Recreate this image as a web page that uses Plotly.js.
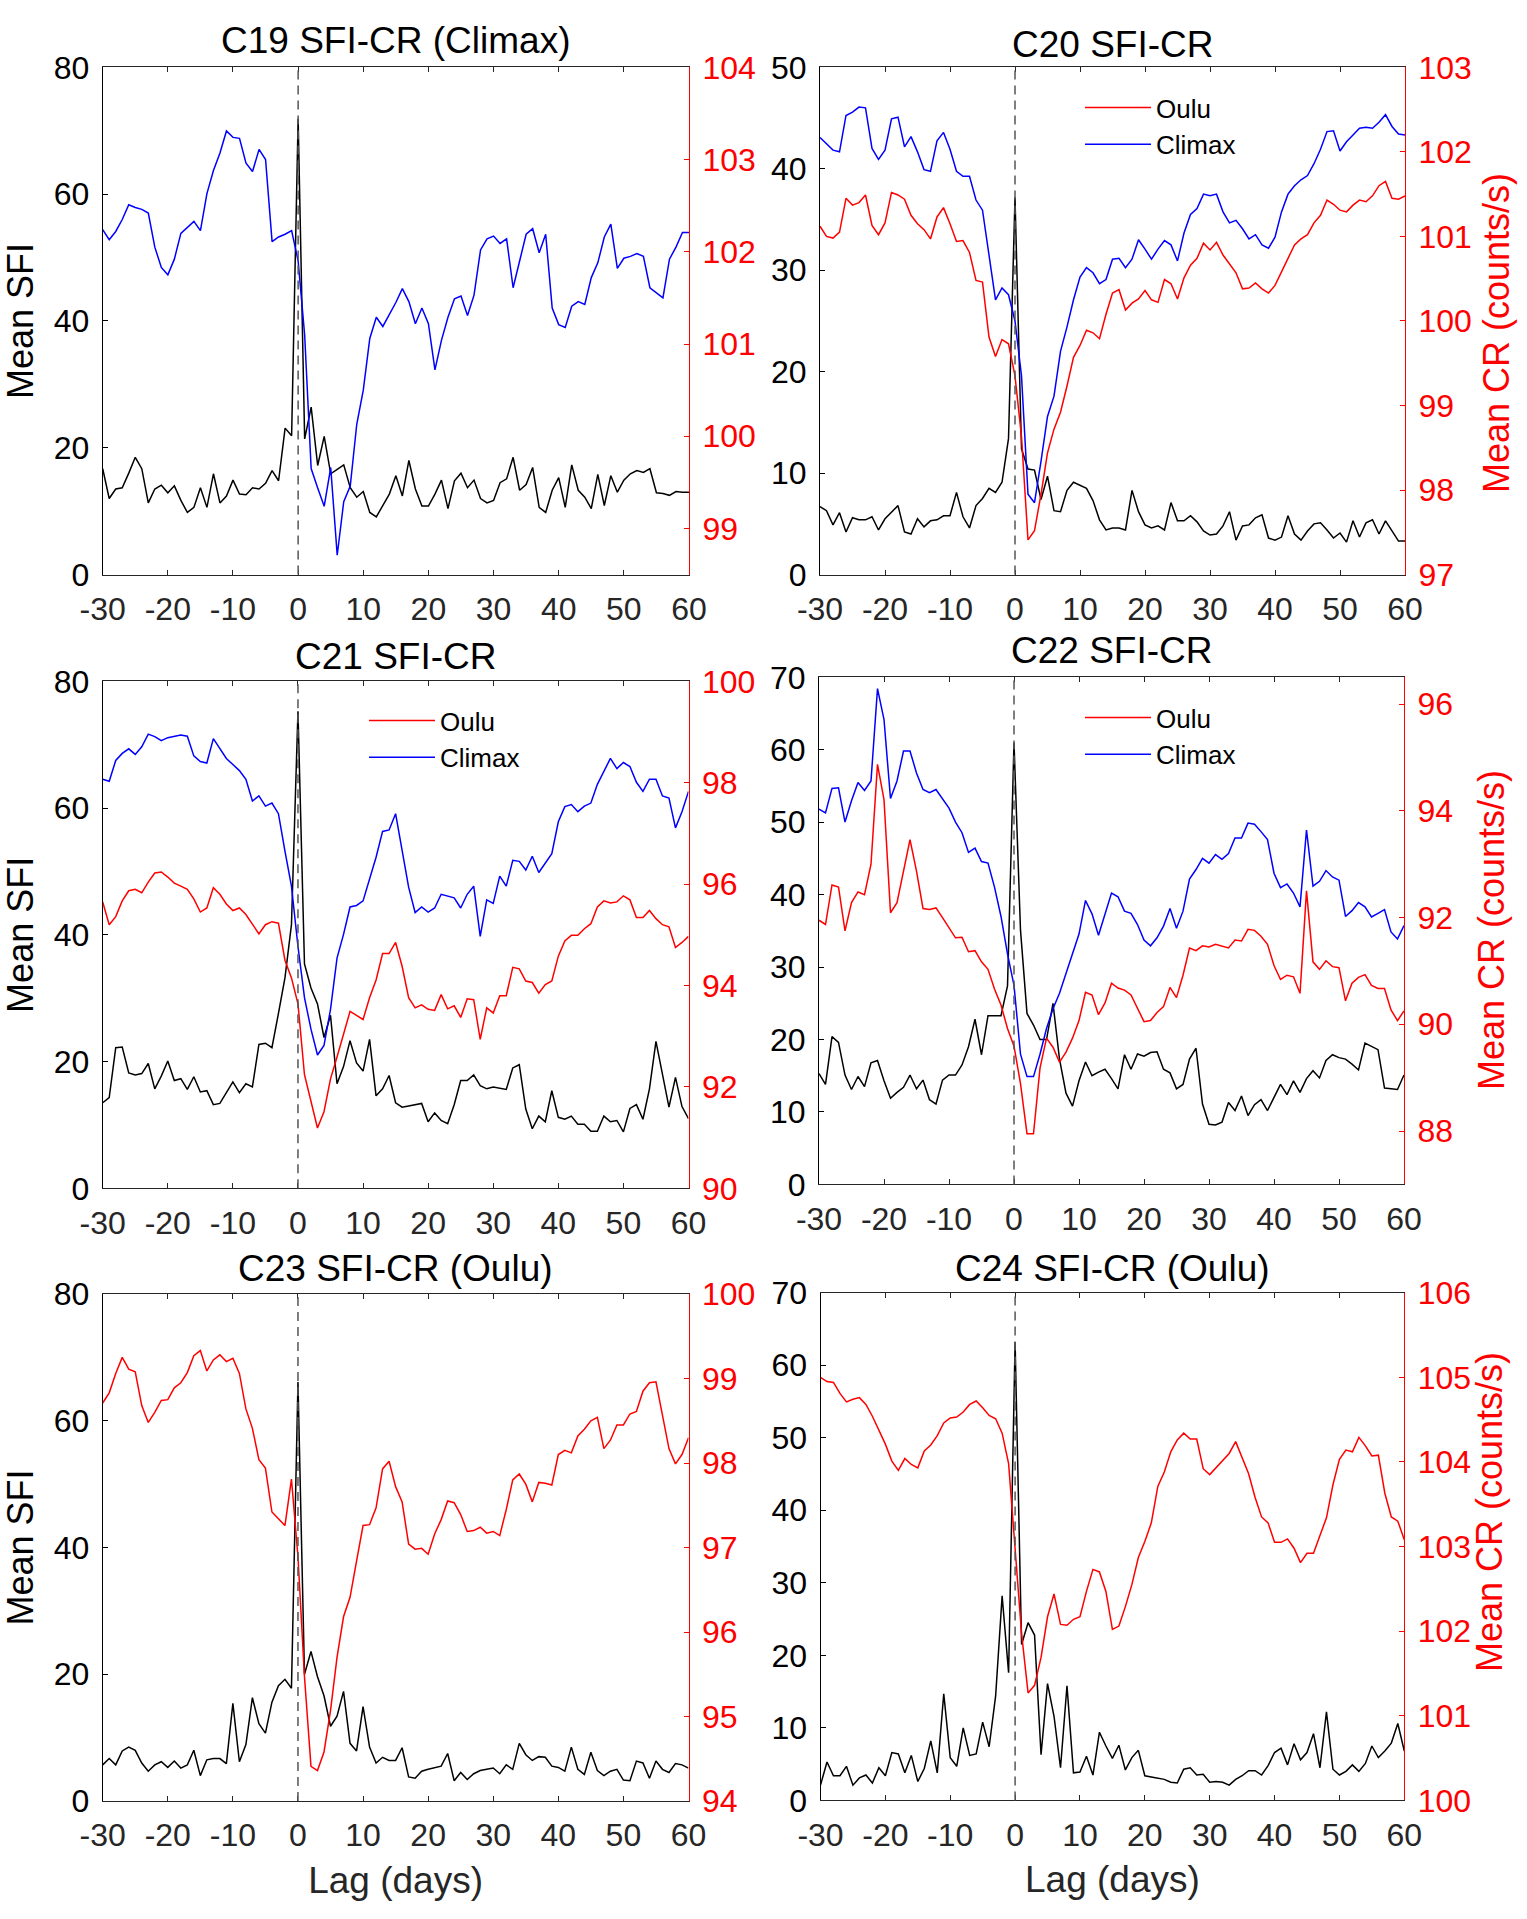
<!DOCTYPE html>
<html>
<head>
<meta charset="utf-8">
<script src="https://cdn.plot.ly/plotly-3.0.1.min.js"></script>
<style>
  html, body { margin: 0; padding: 0; background: #ffffff; }
  #chart { width: 1527px; height: 1919px; }
</style>
</head>
<body>
<div id="chart"></div>
<script>
// ---------------- DATA ----------------
const lags = Array.from({length: 91}, (_, i) => i - 30);
const xTickVals = [-30, -20, -10, 0, 10, 20, 30, 40, 50, 60];
const xTickText = ['-30', '-20', '-10', '0', '10', '20', '30', '40', '50', '60'];
const refLag = 0;

const panelTitles = ['C19 SFI-CR (Climax)', 'C20 SFI-CR', 'C21 SFI-CR', 'C22 SFI-CR', 'C23 SFI-CR (Oulu)', 'C24 SFI-CR (Oulu)'];
const seriesNames = { oulu: 'Oulu', climax: 'Climax' };
const leftTitle = 'Mean SFI';
const rightTitle = 'Mean CR (counts/s)';
const xTitle = 'Lag (days)';

// C19
const sfi19 = [16.7, 12.0, 13.5, 13.7, 16.0, 18.5, 16.7, 11.3, 13.5, 14.1,
  12.9, 14.0, 11.7, 9.8, 10.6, 13.7, 10.6, 15.9, 11.3, 12.4,
  14.9, 12.7, 12.6, 13.7, 13.5, 14.4, 16.4, 14.8, 23.1, 21.9,
  71.9,
  21.4, 26.4, 17.2, 21.8, 15.9, 16.6, 17.3, 13.7, 12.2, 13.1,
  9.8, 9.1, 11.0, 12.7, 15.6, 12.4, 18.0, 13.5, 10.8, 10.8,
  12.7, 14.9, 10.4, 14.8, 16.0, 13.7, 14.9, 12.0, 11.3, 11.7,
  14.5, 15.1, 18.5, 13.3, 14.2, 16.9, 10.6, 9.8, 13.3, 15.3,
  10.6, 17.3, 13.3, 12.2, 10.4, 15.8, 10.9, 15.6, 13.0, 14.9,
  15.9, 16.4, 16.1, 16.7, 12.9, 12.8, 12.5, 13.1, 13.0, 13.0];
const climax19 = [102.24, 102.13, 102.22, 102.35, 102.51, 102.48, 102.46, 102.42, 102.05, 101.83,
  101.75, 101.92, 102.20, 102.27, 102.33, 102.23, 102.63, 102.88, 103.07, 103.31,
  103.24, 103.23, 102.96, 102.87, 103.11, 103.00, 102.11, 102.16, 102.19, 102.23,
  101.90,
  101.10, 99.65, 99.44, 99.24, 99.66, 98.71, 99.29, 99.46, 100.13, 100.50,
  101.06, 101.29, 101.19, 101.32, 101.45, 101.60, 101.46, 101.22, 101.39, 101.22,
  100.72, 101.04, 101.29, 101.49, 101.52, 101.31, 101.53, 102.02, 102.14, 102.17,
  102.09, 102.14, 101.61, 101.90, 102.19, 102.25, 101.99, 102.19, 101.39, 101.21,
  101.18, 101.41, 101.46, 101.43, 101.72, 101.88, 102.16, 102.30, 101.82, 101.93,
  101.95, 101.98, 101.95, 101.61, 101.55, 101.50, 101.92, 102.05, 102.21, 102.21];

// C20
const sfi20 = [6.7, 6.3, 4.9, 6.1, 4.2, 5.6, 5.4, 5.4, 5.7, 4.4,
  5.5, 6.2, 6.8, 4.2, 4.0, 5.5, 4.7, 5.3, 5.4, 5.8,
  5.8, 8.1, 5.7, 4.6, 6.8, 7.5, 8.5, 8.1, 9.1, 13.4,
  37.2,
  12.4, 10.4, 10.3, 7.4, 9.7, 6.3, 6.2, 8.3, 9.1, 8.8,
  8.5, 7.3, 5.4, 4.4, 4.6, 4.6, 4.4, 8.3, 6.2, 4.9,
  4.6, 4.8, 4.4, 7.1, 5.3, 5.3, 5.8, 5.2, 4.3, 3.9,
  4.0, 4.8, 6.2, 3.4, 4.8, 4.9, 5.6, 5.9, 3.6, 3.4,
  3.7, 5.8, 4.0, 3.4, 4.3, 5.0, 5.1, 4.4, 3.6, 4.1,
  3.2, 5.3, 3.7, 5.1, 5.4, 4.0, 5.3, 4.3, 3.3, 3.3];
const climax20 = [102.17, 102.10, 102.02, 102.00, 102.43, 102.47, 102.53, 102.52, 102.04, 101.91,
  102.02, 102.39, 102.41, 102.06, 102.18, 102.00, 101.79, 101.77, 102.13, 102.23,
  102.03, 101.77, 101.71, 101.71, 101.43, 101.31, 100.78, 100.25, 100.39, 100.31,
  100.00,
  99.35, 97.95, 97.85, 98.34, 98.87, 99.11, 99.64, 99.93, 100.25, 100.52,
  100.63, 100.57, 100.44, 100.49, 100.73, 100.74, 100.63, 100.73, 100.96, 100.85,
  100.73, 100.85, 100.95, 100.90, 100.71, 101.04, 101.26, 101.33, 101.50, 101.48,
  101.50, 101.29, 101.16, 101.19, 101.09, 100.97, 101.02, 100.90, 100.86, 100.99,
  101.29, 101.50, 101.60, 101.67, 101.72, 101.86, 102.03, 102.24, 102.25, 102.01,
  102.12, 102.20, 102.28, 102.29, 102.28, 102.35, 102.44, 102.30, 102.21, 102.20];
const oulu20 = [101.12, 101.00, 100.98, 101.05, 101.45, 101.37, 101.40, 101.49, 101.13, 101.02,
  101.16, 101.52, 101.49, 101.44, 101.25, 101.15, 101.08, 100.97, 101.23, 101.34,
  101.15, 100.94, 100.95, 100.81, 100.48, 100.46, 99.81, 99.58, 99.78, 99.73,
  99.35,
  98.63, 97.41, 97.52, 97.95, 98.44, 98.72, 98.92, 99.23, 99.57, 99.71,
  99.89, 99.86, 99.79, 100.08, 100.33, 100.37, 100.13, 100.21, 100.26, 100.36,
  100.25, 100.22, 100.49, 100.44, 100.26, 100.51, 100.66, 100.74, 100.92, 100.84,
  100.93, 100.78, 100.68, 100.57, 100.38, 100.39, 100.45, 100.38, 100.33, 100.42,
  100.58, 100.74, 100.90, 100.97, 101.02, 101.16, 101.25, 101.43, 101.38, 101.31,
  101.29, 101.37, 101.43, 101.41, 101.48, 101.60, 101.65, 101.45, 101.44, 101.48];

// C21
const sfi21 = [13.5, 14.3, 22.2, 22.3, 18.2, 17.9, 18.1, 19.7, 15.7, 17.7,
  20.1, 17.0, 17.3, 15.6, 17.6, 15.2, 15.4, 13.2, 13.4, 15.1,
  16.8, 15.1, 16.5, 16.0, 22.7, 22.9, 22.2, 27.6, 33.2, 41.6,
  75.3,
  35.4, 31.6, 29.1, 23.8, 27.3, 16.5, 19.2, 23.3, 19.8, 18.5,
  23.5, 14.6, 15.7, 17.8, 13.5, 12.8, 13.0, 13.2, 13.4, 10.5,
  11.9, 10.7, 10.2, 13.2, 17.0, 17.0, 17.9, 16.2, 15.7, 16.0,
  15.8, 15.6, 19.0, 19.5, 12.5, 9.4, 11.4, 10.5, 15.4, 11.2,
  10.9, 11.4, 10.1, 10.1, 9.0, 9.0, 11.4, 10.5, 10.7, 8.9,
  12.6, 13.2, 10.9, 15.7, 23.2, 18.2, 12.8, 17.5, 12.9, 11.0];
const climax21 = [98.07, 98.03, 98.44, 98.58, 98.67, 98.56, 98.71, 98.96, 98.91, 98.83,
  98.89, 98.92, 98.94, 98.92, 98.53, 98.42, 98.39, 98.87, 98.67, 98.48,
  98.36, 98.24, 98.07, 97.64, 97.74, 97.54, 97.60, 97.39, 96.65, 95.96,
  94.77,
  93.76, 93.14, 92.63, 92.82, 93.53, 94.54, 95.01, 95.55, 95.58, 95.67,
  96.10, 96.53, 97.04, 97.07, 97.39, 96.65, 95.94, 95.44, 95.55, 95.45,
  95.53, 95.80, 95.77, 95.73, 95.53, 95.80, 95.96, 94.97, 95.69, 95.62,
  96.16, 95.96, 96.47, 96.45, 96.28, 96.55, 96.23, 96.41, 96.60, 97.23,
  97.53, 97.57, 97.43, 97.54, 97.60, 97.97, 98.22, 98.48, 98.28, 98.40,
  98.32, 98.01, 97.83, 98.07, 98.07, 97.74, 97.70, 97.11, 97.43, 97.83];
const oulu21 = [95.65, 95.20, 95.36, 95.67, 95.87, 95.90, 95.83, 96.04, 96.22, 96.24,
  96.14, 96.02, 95.96, 95.90, 95.71, 95.45, 95.53, 95.93, 95.80, 95.61,
  95.48, 95.53, 95.40, 95.20, 95.02, 95.20, 95.26, 95.23, 94.50, 94.15,
  93.64,
  92.24, 91.69, 91.19, 91.51, 92.16, 92.59, 93.06, 93.49, 93.41, 93.33,
  93.76, 94.11, 94.63, 94.63, 94.85, 94.38, 93.76, 93.56, 93.62, 93.53,
  93.51, 93.82, 93.54, 93.60, 93.37, 93.74, 93.72, 92.94, 93.56, 93.46,
  93.80, 93.80, 94.36, 94.33, 94.09, 94.06, 93.85, 94.02, 94.09, 94.58,
  94.88, 94.99, 94.99, 95.12, 95.22, 95.55, 95.67, 95.63, 95.65, 95.77,
  95.69, 95.34, 95.34, 95.48, 95.32, 95.20, 95.16, 94.75, 94.85, 94.97];

// C22
const sfi22 = [15.3, 13.8, 20.4, 19.6, 15.1, 13.1, 14.9, 13.5, 16.8, 17.1,
  14.3, 11.9, 12.7, 13.4, 15.1, 13.2, 14.4, 11.7, 11.1, 14.4,
  15.1, 15.1, 16.5, 19.0, 22.8, 17.9, 23.3, 23.3, 23.3, 27.4,
  61.0,
  35.1, 23.6, 22.0, 20.0, 20.0, 25.0, 17.3, 12.6, 10.8, 14.3,
  16.9, 15.0, 15.5, 15.9, 14.6, 13.2, 17.9, 15.9, 18.0, 17.7,
  18.2, 18.3, 15.9, 15.4, 13.2, 13.8, 17.3, 18.8, 11.1, 8.3,
  8.2, 8.6, 11.3, 10.2, 12.2, 9.5, 11.0, 11.7, 10.2, 12.1,
  13.8, 12.4, 14.3, 12.7, 14.6, 15.7, 14.7, 17.1, 17.9, 17.5,
  17.3, 16.6, 15.8, 19.5, 19.1, 18.6, 13.3, 13.2, 13.1, 15.1];
const climax22 = [94.03, 93.96, 94.42, 94.43, 93.79, 94.19, 94.53, 94.38, 94.56, 96.29,
  95.71, 94.23, 94.56, 95.12, 95.12, 94.71, 94.40, 94.34, 94.40, 94.23,
  94.05, 93.79, 93.59, 93.22, 93.30, 93.05, 93.02, 92.57, 92.02, 91.32,
  90.73,
  89.44, 89.02, 89.02, 89.44, 89.92, 90.29, 90.58, 90.95, 91.32, 91.69,
  92.32, 92.07, 91.67, 92.07, 92.46, 92.39, 92.12, 92.08, 91.87, 91.58,
  91.47, 91.62, 91.84, 92.17, 91.80, 92.12, 92.72, 92.90, 93.11, 93.02,
  93.18, 93.09, 93.20, 93.49, 93.49, 93.77, 93.75, 93.61, 93.46, 92.83,
  92.56, 92.63, 92.46, 92.20, 93.64, 92.59, 92.68, 92.88, 92.76, 92.70,
  92.02, 92.13, 92.28, 92.20, 92.01, 92.08, 92.15, 91.73, 91.60, 91.85];
const oulu22 = [91.95, 91.87, 92.61, 92.57, 91.75, 92.28, 92.48, 92.43, 93.00, 94.87,
  94.21, 92.09, 92.28, 92.87, 93.46, 92.87, 92.17, 92.15, 92.18, 92.00,
  91.80, 91.62, 91.63, 91.36, 91.38, 91.17, 91.03, 90.66, 90.36, 89.92,
  89.59,
  88.89, 87.95, 87.95, 89.18, 89.74, 89.57, 89.29, 89.48, 89.74, 90.07,
  90.60, 90.55, 90.18, 90.40, 90.77, 90.68, 90.64, 90.55, 90.29, 90.05,
  90.07, 90.22, 90.33, 90.69, 90.50, 90.92, 91.43, 91.38, 91.47, 91.45,
  91.50, 91.47, 91.43, 91.58, 91.56, 91.78, 91.76, 91.65, 91.50, 91.10,
  90.84, 90.92, 90.89, 90.58, 92.50, 91.17, 91.03, 91.19, 91.08, 91.06,
  90.44, 90.77, 90.88, 90.93, 90.73, 90.67, 90.67, 90.27, 90.07, 90.25];

// C23
const sfi23 = [5.7, 6.7, 5.7, 7.9, 8.5, 8.0, 6.0, 4.7, 5.7, 6.2,
  5.3, 6.3, 5.2, 5.7, 8.0, 4.0, 6.5, 6.7, 6.7, 5.9,
  15.4, 6.2, 8.9, 16.3, 12.2, 10.7, 15.6, 18.2, 19.2, 17.8,
  66.1,
  20.0, 23.6, 19.6, 16.6, 11.8, 13.4, 17.3, 9.1, 7.9, 14.9,
  8.5, 6.0, 6.9, 6.4, 6.4, 8.4, 3.8, 3.6, 4.7, 5.0,
  5.3, 5.5, 7.5, 3.2, 4.5, 3.4, 4.3, 4.8, 5.0, 5.2,
  4.3, 5.7, 5.0, 9.1, 7.3, 6.4, 7.0, 6.9, 5.5, 5.3,
  4.7, 8.5, 5.0, 4.2, 7.7, 4.8, 4.0, 4.7, 5.0, 3.3,
  3.2, 6.3, 6.0, 3.6, 6.3, 5.0, 4.5, 5.9, 5.7, 5.2];
const oulu23 = [98.71, 98.83, 99.06, 99.25, 99.11, 99.08, 98.68, 98.48, 98.60, 98.74,
  98.75, 98.89, 98.95, 99.07, 99.27, 99.33, 99.09, 99.22, 99.28, 99.20,
  99.24, 99.06, 98.64, 98.41, 98.04, 97.94, 97.42, 97.34, 97.26, 97.81,
  96.89,
  95.47, 94.41, 94.36, 94.58, 95.07, 95.70, 96.18, 96.41, 96.84, 97.26,
  97.27, 97.47, 97.93, 98.02, 97.72, 97.54, 97.04, 96.98, 96.99, 96.92,
  97.16, 97.33, 97.55, 97.53, 97.39, 97.19, 97.20, 97.24, 97.17, 97.19,
  97.14, 97.45, 97.80, 97.87, 97.75, 97.54, 97.77, 97.76, 97.74, 98.10,
  98.15, 98.12, 98.32, 98.40, 98.50, 98.54, 98.17, 98.27, 98.45, 98.45,
  98.58, 98.61, 98.85, 98.95, 98.96, 98.58, 98.17, 97.99, 98.10, 98.30];

// C24
const sfi24 = [2.1, 5.3, 3.4, 3.4, 4.7, 2.1, 3.1, 3.5, 2.4, 4.5,
  3.4, 6.6, 6.4, 3.8, 6.2, 2.6, 4.4, 8.2, 3.8, 14.7,
  5.9, 4.7, 10.0, 6.2, 6.4, 10.8, 7.4, 14.4, 28.2, 17.6,
  63.2,
  21.5, 24.5, 22.8, 6.3, 16.1, 11.6, 4.5, 15.8, 3.8, 3.9,
  6.1, 3.5, 9.4, 7.5, 5.8, 7.6, 4.2, 5.9, 6.9, 3.4,
  3.2, 3.1, 2.9, 2.5, 2.4, 4.3, 4.5, 3.5, 3.6, 2.5,
  2.6, 2.5, 2.1, 2.9, 3.4, 4.1, 4.1, 3.5, 4.8, 6.6,
  7.2, 4.9, 7.8, 5.6, 6.6, 9.2, 4.5, 12.2, 4.3, 3.5,
  4.0, 4.9, 4.0, 5.1, 7.5, 5.9, 6.8, 7.9, 10.6, 6.8];
const oulu24 = [105.00, 104.95, 104.94, 104.81, 104.71, 104.74, 104.76, 104.68, 104.54, 104.37,
  104.21, 104.01, 103.90, 104.04, 103.97, 103.93, 104.13, 104.20, 104.31, 104.46,
  104.52, 104.53, 104.59, 104.68, 104.72, 104.64, 104.55, 104.51, 104.34, 103.98,
  102.97,
  101.97, 101.27, 101.36, 101.69, 102.17, 102.44, 102.08, 102.07, 102.14, 102.17,
  102.47, 102.73, 102.70, 102.47, 102.02, 102.06, 102.29, 102.55, 102.87, 103.06,
  103.28, 103.71, 103.88, 104.12, 104.26, 104.34, 104.27, 104.27, 103.92, 103.85,
  103.93, 104.01, 104.10, 104.24, 104.04, 103.86, 103.58, 103.35, 103.28, 103.05,
  103.05, 103.09, 102.98, 102.81, 102.92, 102.92, 103.13, 103.34, 103.73, 104.03,
  104.14, 104.12, 104.29, 104.19, 104.07, 104.08, 103.63, 103.35, 103.30, 103.08];

// Axis ranges / ticks
const leftRanges = [[0, 80], [0, 50], [0, 80], [0, 70], [0, 80], [0, 70]];
const leftTicks = [[0, 20, 40, 60, 80], [0, 10, 20, 30, 40, 50], [0, 20, 40, 60, 80],
  [0, 10, 20, 30, 40, 50, 60, 70], [0, 20, 40, 60, 80], [0, 10, 20, 30, 40, 50, 60, 70]];
const rightRanges = [[98.5, 104], [97, 103], [90, 100], [87, 96.5], [94, 100], [100, 106]];
const rightTicks = [[99, 100, 101, 102, 103, 104], [97, 98, 99, 100, 101, 102, 103],
  [90, 92, 94, 96, 98, 100], [88, 90, 92, 94, 96], [94, 95, 96, 97, 98, 99, 100],
  [100, 101, 102, 103, 104, 105, 106]];

const panelData = [
  { sfi: sfi19, climax: climax19, oulu: null },
  { sfi: sfi20, climax: climax20, oulu: oulu20 },
  { sfi: sfi21, climax: climax21, oulu: oulu21 },
  { sfi: sfi22, climax: climax22, oulu: oulu22 },
  { sfi: sfi23, climax: null, oulu: oulu23 },
  { sfi: sfi24, climax: null, oulu: oulu24 }
];

// ---------------- LAYOUT GEOMETRY (px) ----------------
const W = 1527, H = 1919;
const boxes = [
  { l: 102.7, r: 689.0, t: 67.3, b: 574.6 },
  { l: 820.0, r: 1405.0, t: 67.3, b: 574.6 },
  { l: 102.7, r: 688.5, t: 681.4, b: 1188.3 },
  { l: 819.0, r: 1404.0, t: 677.4, b: 1184.4 },
  { l: 102.7, r: 688.5, t: 1294.0, b: 1801.0 },
  { l: 820.5, r: 1404.3, t: 1292.7, b: 1800.4 }
];
const titleY = [40.5, 44.5, 656, 650.5, 1268, 1268];
const rightTitlePos = [null, { x: 1497, y: 333 }, null, { x: 1491, y: 930 }, null, { x: 1489, y: 1512 }];
const legendPos = [null, { x: 1080, y: 84 }, { x: 364, y: 697 }, { x: 1080, y: 694 }, null, null];
const legendIds = [null, 'legend', 'legend2', 'legend3', null, null];

const FONT = 'Liberation Sans, Arial, Helvetica, sans-serif';
const AX = '#262626';

const layout = {
  width: W, height: H,
  margin: { l: 0, r: 0, t: 0, b: 0 },
  paper_bgcolor: '#ffffff', plot_bgcolor: 'rgba(0,0,0,0)',
  font: { family: FONT, color: '#000000', size: 32 },
  showlegend: true,
  annotations: [], shapes: []
};
const traces = [];

boxes.forEach((bx, i) => {
  const k = i + 1;
  const xName = k === 1 ? 'xaxis' : 'xaxis' + k;
  const yL = 2 * k - 1, yR = 2 * k;
  const yLName = yL === 1 ? 'yaxis' : 'yaxis' + yL;
  const yRName = 'yaxis' + yR;
  const xRef = k === 1 ? 'x' : 'x' + k;
  const yLRef = yL === 1 ? 'y' : 'y' + yL;
  const yRRef = 'y' + yR;
  const xd = [bx.l / W, bx.r / W];
  const yd = [1 - bx.b / H, 1 - bx.t / H];

  layout[xName] = {
    domain: xd, anchor: yLRef, range: [-30, 60],
    tickmode: 'array', tickvals: xTickVals, ticktext: xTickText,
    ticks: 'inside', ticklen: 5, tickwidth: 1, tickcolor: AX,
    showline: true, linecolor: AX, linewidth: 1, mirror: 'ticks',
    showgrid: false, zeroline: false,
    tickfont: { family: FONT, size: 32, color: AX },
    ticklabelstandoff: 6,
    title: (k >= 5) ? { text: xTitle, font: { family: FONT, size: 37, color: AX }, standoff: 14 } : { text: '' }
  };
  layout[yLName] = {
    domain: yd, anchor: xRef, range: leftRanges[i],
    tickmode: 'array', tickvals: leftTicks[i],
    ticks: 'inside', ticklen: 5, tickwidth: 1, tickcolor: '#000000',
    showline: true, linecolor: '#000000', linewidth: 1, mirror: false,
    showgrid: false, zeroline: false,
    tickfont: { family: FONT, size: 32, color: '#000000' },
    ticklabelstandoff: 6,
    title: (k % 2 === 1) ? { text: leftTitle, font: { family: FONT, size: 36, color: '#000000' }, standoff: 10 } : { text: '' }
  };
  layout[yRName] = {
    overlaying: yLRef, side: 'right', anchor: xRef, range: rightRanges[i],
    tickmode: 'array', tickvals: rightTicks[i],
    ticks: 'inside', ticklen: 5, tickwidth: 1, tickcolor: '#ff0000',
    showline: true, linecolor: '#ff0000', linewidth: 1,
    showgrid: false, zeroline: false,
    tickfont: { family: FONT, size: 32, color: '#ff0000' },
    ticklabelstandoff: 6,
    title: { text: '' }
  };

  const pd = panelData[i];
  const leg = legendIds[i];
  traces.push({
    x: lags, y: pd.sfi, xaxis: xRef, yaxis: yLRef, type: 'scatter', mode: 'lines',
    line: { color: '#000000', width: 1.5 }, showlegend: false, hoverinfo: 'skip'
  });
  if (pd.climax) {
    traces.push({
      x: lags, y: pd.climax, xaxis: xRef, yaxis: yRRef, type: 'scatter', mode: 'lines',
      name: seriesNames.climax, line: { color: '#0000ff', width: 1.5 },
      showlegend: !!leg, legend: leg || 'legend', legendrank: 2, hoverinfo: 'skip'
    });
  }
  if (pd.oulu) {
    traces.push({
      x: lags, y: pd.oulu, xaxis: xRef, yaxis: yRRef, type: 'scatter', mode: 'lines',
      name: seriesNames.oulu, line: { color: '#ff0000', width: 1.5 },
      showlegend: !!leg, legend: leg || 'legend', legendrank: 1, hoverinfo: 'skip'
    });
  }

  // dashed reference line at lag 0
  layout.shapes.push({
    type: 'line', xref: xRef, yref: yLRef + ' domain', x0: refLag, x1: refLag, y0: 0, y1: 1,
    line: { color: '#555555', width: 1.5, dash: '9px,6px' }, layer: 'above'
  });

  // panel title
  layout.annotations.push({
    text: panelTitles[i], xref: 'paper', yref: 'paper',
    x: (xd[0] + xd[1]) / 2, y: 1 - titleY[i] / H, xanchor: 'center', yanchor: 'middle',
    showarrow: false, font: { family: FONT, size: 37, color: '#000000' }
  });

  // right-axis title (placed where the source figure draws it)
  if (rightTitlePos[i]) {
    layout.annotations.push({
      text: rightTitle, xref: 'paper', yref: 'paper', textangle: -90,
      x: rightTitlePos[i].x / W, y: 1 - rightTitlePos[i].y / H, xanchor: 'center', yanchor: 'middle',
      showarrow: false, font: { family: FONT, size: 36, color: '#ff0000' }
    });
  }

  if (leg) {
    layout[leg] = {
      x: legendPos[i].x / W, y: 1 - legendPos[i].y / H, xanchor: 'left', yanchor: 'top',
      xref: 'paper', yref: 'paper',
      bgcolor: 'rgba(0,0,0,0)', borderwidth: 0,
      font: { family: FONT, size: 26, color: '#000000' },
      traceorder: 'normal', itemwidth: 66
    };
  }
});

Plotly.newPlot('chart', traces, layout, { displayModeBar: false, staticPlot: true });
</script>
</body>
</html>
